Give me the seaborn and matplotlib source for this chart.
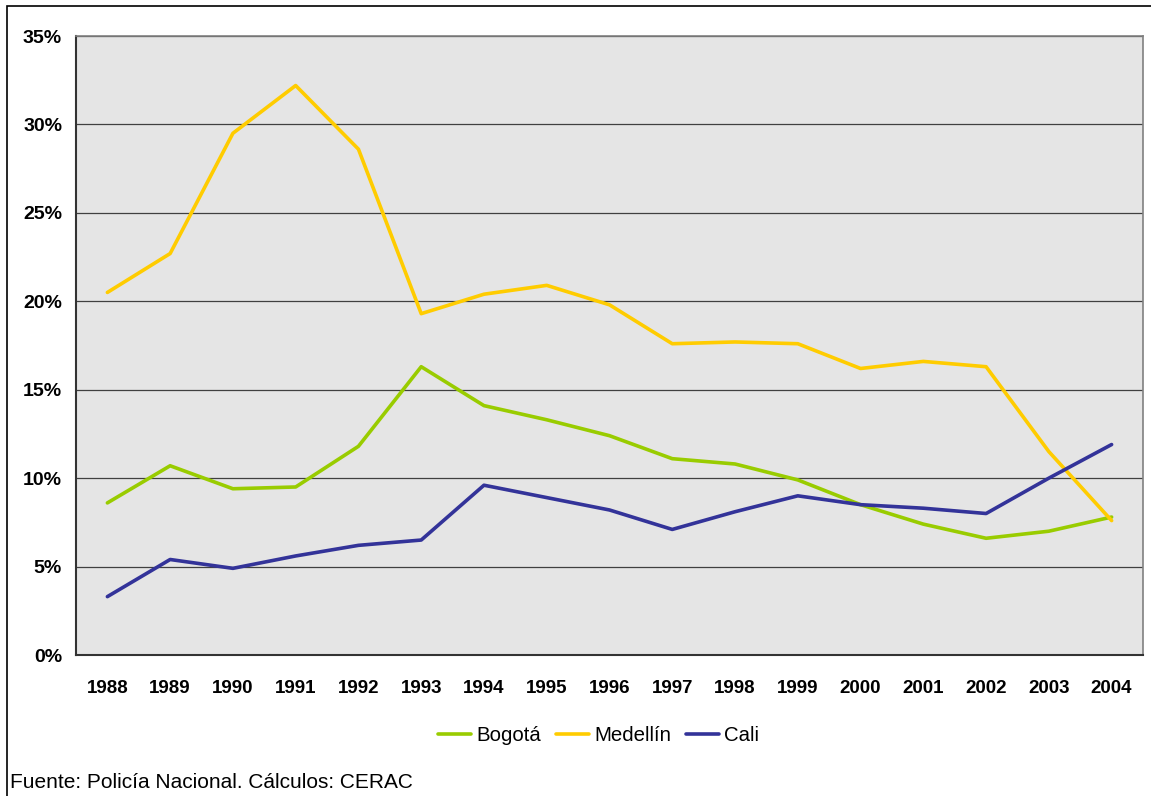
import pandas as pd
import numpy as np
import matplotlib.pyplot as plt
import seaborn as sns
from matplotlib.patches import Rectangle
from matplotlib.ticker import FixedLocator, PercentFormatter

# data (percent)
years = [str(y) for y in range(1988, 2005)]
bogota = [8.6, 10.7, 9.4, 9.5, 11.8, 16.3, 14.1, 13.3, 12.4, 11.1, 10.8, 9.9, 8.5, 7.4, 6.6, 7.0, 7.8]
medellin = [20.5, 22.7, 29.5, 32.2, 28.6, 19.3, 20.4, 20.9, 19.8, 17.6, 17.7, 17.6, 16.2, 16.6, 16.3, 11.5, 7.6]
cali = [3.3, 5.4, 4.9, 5.6, 6.2, 6.5, 9.6, 8.9, 8.2, 7.1, 8.1, 9.0, 8.5, 8.3, 8.0, 10.0, 11.9]

cities = ["Bogotá", "Medellín", "Cali"]
colors = ["#99CC00", "#FFCC00", "#333399"]

df = pd.DataFrame({
    "year": years * 3,
    "value": bogota + medellin + cali,
    "city": np.repeat(cities, len(years)),
})

sns.set_style("white")
plt.rcParams["font.family"] = ["Liberation Sans", "DejaVu Sans"]
plt.rcParams["text.color"] = "black"
plt.rcParams["xtick.color"] = "black"
plt.rcParams["ytick.color"] = "black"

fig = plt.figure(figsize=(11.51, 7.96), dpi=100)
ax = fig.add_axes([76 / 1151, 1 - 655 / 796, (1143 - 76) / 1151, (655 - 36) / 796])
ax.set_facecolor("#E5E5E5")

sns.lineplot(
    data=df, x="year", y="value", hue="city",
    palette=colors, hue_order=cities, linewidth=2.6, ax=ax, sort=False,
)

ax.set_xlim(-0.5, len(years) - 0.5)
ax.set_ylim(0, 35)
ax.set_yticks(range(0, 40, 5))
ax.yaxis.set_major_formatter(PercentFormatter(decimals=0))
ax.grid(axis="y", color="#404040", linewidth=0.9)
ax.set_axisbelow(True)

# ticks between categories, labels centered
ax.set_xticks(range(len(years)))
ax.set_xticklabels(years)
ax.xaxis.set_minor_locator(FixedLocator(np.arange(-0.5, len(years), 1)))
ax.tick_params(axis="x", which="major", length=0, pad=18)
ax.tick_params(axis="x", which="minor", length=6, width=1.2, color="#333333", direction="out")
ax.tick_params(axis="y", length=6, width=1.2, color="#333333", direction="out", pad=4)
for lbl in ax.get_xticklabels():
    lbl.set_fontweight("bold")
    lbl.set_fontsize(13.5)
for lbl in ax.get_yticklabels():
    lbl.set_fontweight("bold")
    lbl.set_fontsize(14)

for side in ["left", "bottom"]:
    ax.spines[side].set_color("#333333")
    ax.spines[side].set_linewidth(1.5)
for side in ["top", "right"]:
    ax.spines[side].set_color("#808080")
    ax.spines[side].set_linewidth(1.2)

ax.set_xlabel("")
ax.set_ylabel("")

leg = ax.legend(
    loc="center", bbox_to_anchor=(0.49, -0.13), ncol=3, frameon=False,
    fontsize=14.7, handlelength=1.6, columnspacing=0.75, handletextpad=0.25,
)
for line in leg.get_lines():
    line.set_linewidth(2.6)

fig.text(10 / 1151, 1 - 782 / 796, "Fuente: Policía Nacional. Cálculos: CERAC",
         fontsize=15, ha="left", va="center")

# outer frame of the chart (left and top edges visible)
fig.patches.append(Rectangle((7 / 1151, -0.05), 1.2, 1.05 - 6 / 796,
                             transform=fig.transFigure, fill=False,
                             edgecolor="black", linewidth=1.2))

fig.savefig("out.png", dpi=100)
